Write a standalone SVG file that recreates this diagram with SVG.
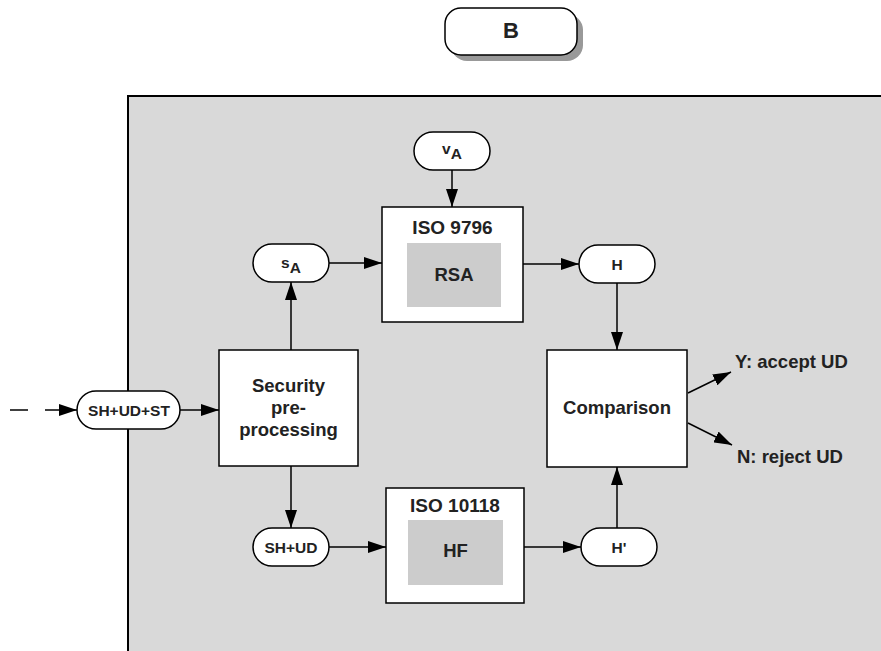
<svg xmlns="http://www.w3.org/2000/svg" width="881" height="651" viewBox="0 0 881 651">
  <defs>
    <marker id="arrow" viewBox="0 0 18 12" refX="18" refY="6" markerWidth="18" markerHeight="12" markerUnits="userSpaceOnUse" orient="auto">
      <path d="M0,0 L18,6 L0,12 Z" fill="#000"/>
    </marker>
    <style>
      text { font-family: "Liberation Sans", Arial, sans-serif; font-weight: bold; fill: #222; text-anchor: middle; }
      .box { fill: #fff; stroke: #000; stroke-width: 1.5; }
      .pill { fill: #fff; stroke: #000; stroke-width: 1.5; }
      .inner { fill: #cccccc; stroke: none; }
      .conn line { stroke: #000; stroke-width: 1.5; fill: none; }
      .lbl { font-size: 18.5px; }
      .ttl { font-size: 19px; }
      .small { font-size: 15.5px; }
      .left { text-anchor: start; }
    </style>
  </defs>

  <rect width="881" height="651" fill="#fff"/>

  <!-- title button with drop shadow -->
  <g id="title">
    <rect x="451" y="14" width="132" height="47" rx="16" fill="#999"/>
    <rect x="445" y="8" width="132" height="47" rx="16" class="pill"/>
    <text x="511" y="38" font-size="22">B</text>
  </g>

  <!-- gray working area -->
  <rect x="128" y="96" width="800" height="600" fill="#d9d9d9" stroke="#000" stroke-width="2"/>

  <!-- connectors -->
  <g class="conn">
    <line x1="10" y1="410" x2="28" y2="410"/>
    <line x1="45" y1="410" x2="77" y2="410" marker-end="url(#arrow)"/>
    <line x1="180" y1="410" x2="219" y2="410" marker-end="url(#arrow)"/>
    <line x1="291" y1="350" x2="291" y2="282" marker-end="url(#arrow)"/>
    <line x1="329" y1="263" x2="382" y2="263" marker-end="url(#arrow)"/>
    <line x1="452" y1="170" x2="452" y2="207" marker-end="url(#arrow)"/>
    <line x1="523" y1="264" x2="579" y2="264" marker-end="url(#arrow)"/>
    <line x1="617" y1="283" x2="617" y2="350" marker-end="url(#arrow)"/>
    <line x1="291" y1="466" x2="291" y2="528" marker-end="url(#arrow)"/>
    <line x1="329" y1="547" x2="386" y2="547" marker-end="url(#arrow)"/>
    <line x1="524" y1="547" x2="581" y2="547" marker-end="url(#arrow)"/>
    <line x1="617" y1="528" x2="617" y2="467" marker-end="url(#arrow)"/>
    <line x1="688" y1="393" x2="731" y2="372" marker-end="url(#arrow)"/>
    <line x1="688" y1="423" x2="732" y2="445" marker-end="url(#arrow)"/>
  </g>

  <g id="input">
    <rect x="77" y="391" width="103" height="38" rx="19" class="pill"/>
    <text x="129" y="416" class="small">SH+UD+ST</text>
  </g>

  <g id="security">
    <rect x="219" y="350" width="139" height="116" class="box"/>
    <text x="288.5" y="392" class="lbl">Security</text>
    <text x="288.5" y="414" class="lbl">pre-</text>
    <text x="288.5" y="436" class="lbl">processing</text>
  </g>

  <g id="sA">
    <rect x="253" y="244" width="76" height="38" rx="19" class="pill"/>
    <text x="291" y="268" class="small">s<tspan dy="5">A</tspan></text>
  </g>

  <g id="vA">
    <rect x="414" y="132" width="76" height="38" rx="19" class="pill"/>
    <text x="452" y="154" class="small">v<tspan dy="5">A</tspan></text>
  </g>

  <g id="iso9796">
    <rect x="382" y="207" width="141" height="115" class="box"/>
    <text x="452.5" y="234" class="ttl">ISO 9796</text>
    <rect x="407" y="243" width="94" height="64" class="inner"/>
    <text x="454" y="281" class="lbl">RSA</text>
  </g>

  <g id="H">
    <rect x="579" y="245" width="76" height="38" rx="19" class="pill"/>
    <text x="617" y="270" class="small">H</text>
  </g>

  <g id="comparison">
    <rect x="547" y="350" width="140" height="117" class="box"/>
    <text x="617" y="414" class="lbl">Comparison</text>
  </g>

  <g id="outcomes">
    <text x="735" y="368" class="lbl left">Y: accept UD</text>
    <text x="737" y="463" class="lbl left">N: reject UD</text>
  </g>

  <g id="shud">
    <rect x="253" y="528" width="76" height="38" rx="19" class="pill"/>
    <text x="291" y="553" class="small">SH+UD</text>
  </g>

  <g id="iso10118">
    <rect x="386" y="488" width="138" height="115" class="box"/>
    <text x="455" y="512" class="ttl">ISO 10118</text>
    <rect x="408" y="520" width="95" height="65" class="inner"/>
    <text x="455.5" y="557" class="lbl">HF</text>
  </g>

  <g id="Hprime">
    <rect x="581" y="528" width="76" height="38" rx="19" class="pill"/>
    <text x="619" y="553" class="small">H'</text>
  </g>
</svg>
